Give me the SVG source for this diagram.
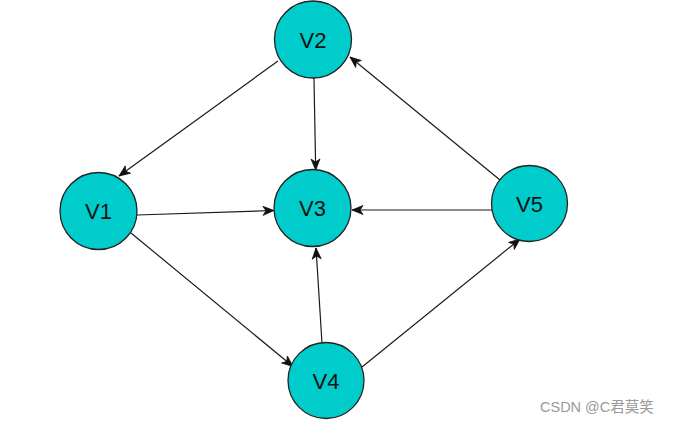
<svg xmlns="http://www.w3.org/2000/svg" width="673" height="424" viewBox="0 0 673 424">
<style>
.node circle{fill:#00CCCC;stroke:#222;stroke-width:1.3}
.node text{font-family:"Liberation Sans",Arial,sans-serif;font-size:22px;fill:#111;text-anchor:middle}
.edge{stroke:#1a1a1a;stroke-width:1.2;fill:none;marker-end:url(#arr)}
.wm{font-family:"Liberation Sans","Noto Sans CJK SC",sans-serif;font-size:14.5px;fill:#9a9a9a}
</style>
<defs>
<marker id="arr" markerUnits="userSpaceOnUse" markerWidth="12" markerHeight="10" refX="11" refY="4.5" orient="auto" overflow="visible">
<path d="M0,0 L11,4.5 L0,9 L3,4.5 Z" fill="#111" stroke="#111" stroke-width="0.8"/>
</marker>
</defs>
<rect width="673" height="424" fill="#fff"/>
<g id="connectors">
<line class="edge" x1="278" y1="61" x2="119" y2="176"/>
<line class="edge" x1="314" y1="78" x2="315.7" y2="170"/>
<line class="edge" x1="137" y1="215" x2="274" y2="210.5"/>
<line class="edge" x1="131" y1="233" x2="293" y2="366.5"/>
<line class="edge" x1="322" y1="343" x2="316" y2="248"/>
<line class="edge" x1="362" y1="367" x2="520" y2="239"/>
<line class="edge" x1="492" y1="210" x2="352" y2="210"/>
<line class="edge" x1="500" y1="180" x2="350" y2="57"/>
</g>
<g id="V2" class="node"><circle cx="313" cy="39.5" r="38.5"/><text x="313" y="47.5">V2</text></g>
<g id="V1" class="node"><circle cx="98.5" cy="211" r="38.5"/><text x="98.5" y="219">V1</text></g>
<g id="V3" class="node"><circle cx="312.5" cy="208" r="38.5"/><text x="312.5" y="216">V3</text></g>
<g id="V5" class="node"><circle cx="529.5" cy="203.5" r="38"/><text x="529.5" y="211.5">V5</text></g>
<g id="V4" class="node"><circle cx="326" cy="380.5" r="38"/><text x="326" y="388.5">V4</text></g>
<text class="wm" x="540" y="412">CSDN @C君莫笑</text>
</svg>
